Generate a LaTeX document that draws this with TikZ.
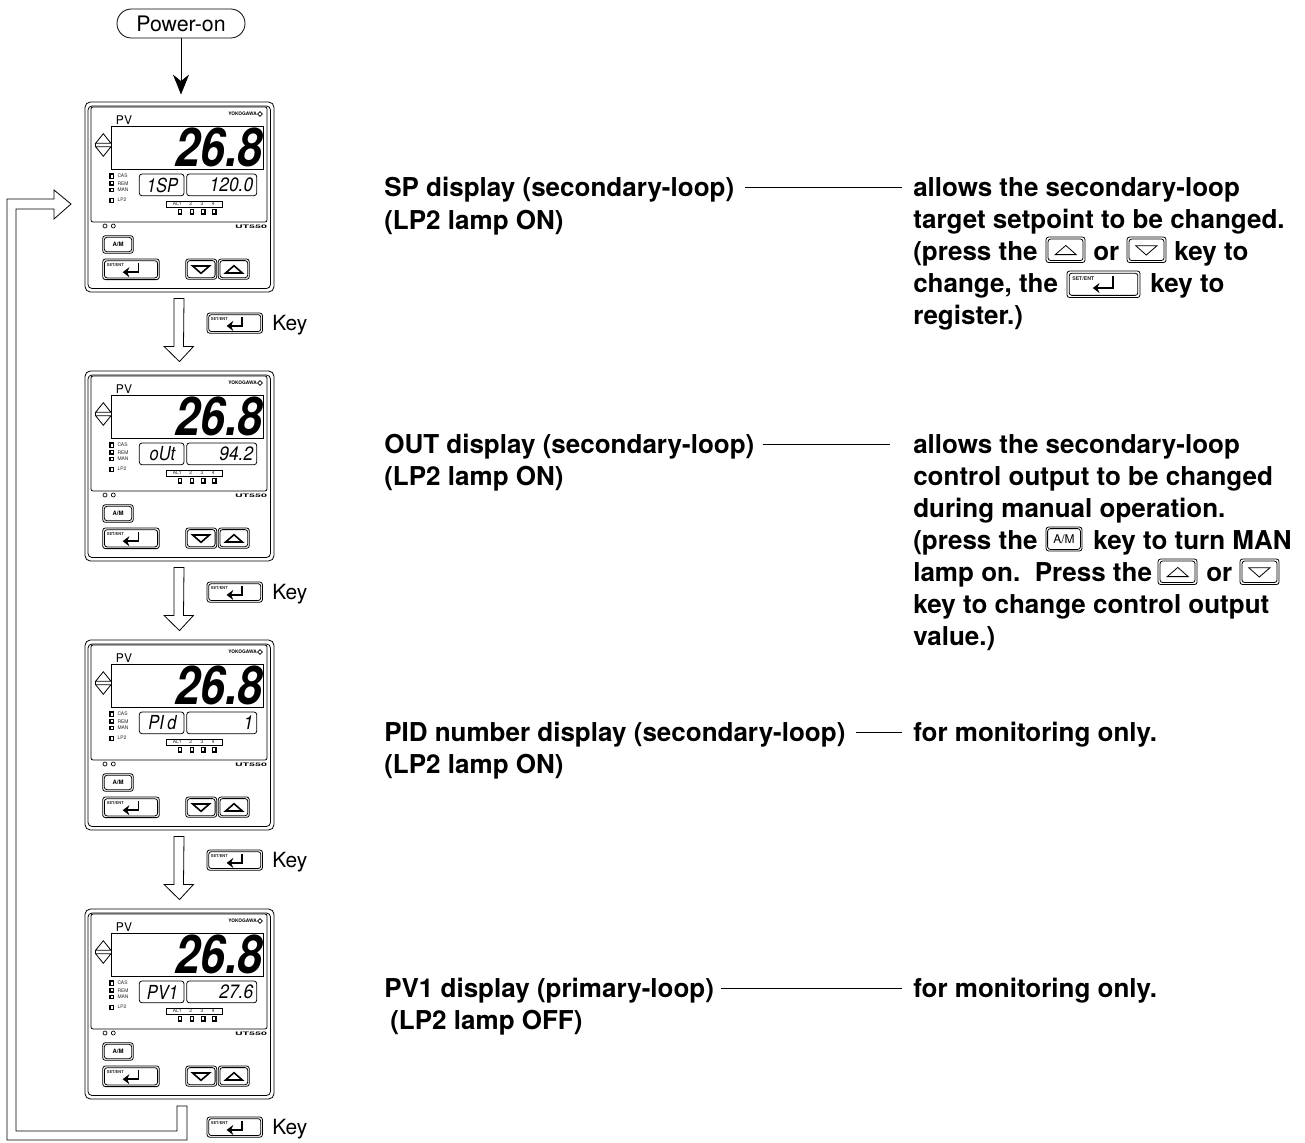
\documentclass[tikz,border=0pt]{standalone}
\usepackage{fontspec}
\usepackage{graphicx}
\setmainfont{TeX Gyre Heros}
\usetikzlibrary{arrows.meta,calc}
\tikzset{
  thinline/.style={line width=.6pt,black},
  keyrim/.style={line width=.6pt,rounded corners=2pt,black},
  lamp/.style={line width=1pt,draw=black,fill=white},
  bold text/.style={anchor=west,inner sep=0pt,text height=14.25pt,text depth=.75pt,font=\fontsize{19.5pt}{19.5pt}\selectfont\bfseries},
  plain text/.style={anchor=west,inner sep=0pt,font=\fontsize{15.7pt}{15.7pt}\selectfont},
  tiny text/.style={inner sep=0pt,font=\fontsize{3.7pt}{3.7pt}\selectfont,text=black!85},
  frame node/.style={draw,line width=.6pt,rounded corners=4pt,minimum width=141.75pt,minimum height=142.5pt,inner sep=0pt},
  blockarrow/.style={draw,line width=.6pt,fill=white},
  leader/.style={line width=.6pt,black},
}
% SET/ENT key: name, x, y, scale, label size
\newcommand{\setentkey}[5]{%
  \begin{scope}[shift={(#2,#3)},scale=#4]
    \draw[keyrim] (0,0) rectangle (56.6,20.6);
    \draw[keyrim] (1.7,1.7) rectangle (54.9,18.9);
    \node[inner sep=0pt,font=\fontsize{#5pt}{#5pt}\selectfont\bfseries,text=black!85] (#1lbl) at (12.6,5.8) {SET/ENT};
    \draw[line width=1.2pt,-{Stealth[length=5pt,width=7.5pt]}] (35.7,4) -- (35.7,13.2) -- (20,13.2);
  \end{scope}}
% arrow key: name, x, y, scale, u/d, triangle line width
\newcommand{\arrowkey}[6]{%
  \begin{scope}[shift={(#2,#3)},scale=#4]
    \draw[keyrim] (0,0) rectangle (31,20.3);
    \draw[keyrim] (1.6,1.6) rectangle (29.4,18.7);
    \if#5u
      \draw[line width=#6,line join=miter] (7.3,14) -- (24,14) -- (15.7,6.7) -- cycle;
    \else
      \draw[line width=#6,line join=miter] (7,7) -- (23.7,7) -- (15.3,14.3) -- cycle;
    \fi
  \end{scope}}
% A/M key: name, x, y, w, h, font
\newcommand{\amkey}[6]{%
  \begin{scope}[shift={(#2,#3)}]
    \draw[keyrim] (0,0) rectangle (#4,#5);
    \draw[keyrim] (1.6,1.6) rectangle ({#4-1.6},{#5-1.6});
    \node[inner sep=0pt,font=#6] (#1lbl) at ({#4/2},{#5/2}) {A/M};
  \end{scope}}
% panel: name, y, first small display, second small display
\newcommand{\panel}[4]{%
  \begin{scope}[shift={(85,#2)}]
    \node[frame node] (#1) at (94.5,95) {};
    \draw[thinline,rounded corners=3pt] (3,4) rectangle (185.5,186.5);
    \draw[thinline,rounded corners=1.5pt] (6,5) rectangle (182,120);
    \draw[thinline] (26,24) rectangle (178,67);
    \node[inner sep=0pt,font=\fontsize{9pt}{9pt}\selectfont] (#1pv) at (39,18) {PV};
    \node[anchor=east,inner sep=0pt,font=\fontsize{3.6pt}{3.6pt}\selectfont\bfseries] (#1yoko) at (172,12) {YOKOGAWA};
    \draw[line width=.5pt] (175,9.7) -- (177.3,12) -- (175,14.3) -- (172.7,12) -- cycle;
    \node[anchor=east,inner sep=0pt] (#1big) at (178,45) {\scalebox{.84}[1]{\fontsize{40pt}{40pt}\selectfont\bfseries\itshape 26.8}};
    % updown marks
    \draw[thinline] (10.6,41.3) -- (18.3,31.7) -- (26,41.3) -- cycle;
    \draw[thinline] (10.6,44.7) -- (18.3,54.3) -- (26,44.7) -- cycle;
    \draw[thinline] (10.6,41.3) -- (10.6,44.7) (26,41.3) -- (26,44.7);
    % lamps
    \draw[lamp] (25,72) rectangle (28.3,76.3);
    \draw[lamp] (25,79.3) rectangle (28.3,83);
    \draw[lamp] (25,86.3) rectangle (28.3,89.7);
    \draw[lamp] (25,96.3) rectangle (28.3,100.7);
    \node[tiny text,anchor=west] (#1cas) at (32.3,74) {CAS};
    \node[tiny text,anchor=west] (#1rem) at (32.3,81.3) {REM};
    \node[tiny text,anchor=west] (#1man) at (32.3,88) {MAN};
    \node[tiny text,anchor=west] (#1lp) at (32.3,98) {LP2};
    % small displays
    \draw[thinline,rounded corners=2pt] (54.3,72) rectangle (99,93.7);
    \draw[thinline,rounded corners=2pt] (101.7,72) rectangle (171.7,93.7);
    \node[inner sep=0pt] (#1dispa) at (77.5,83) {\scalebox{.85}[1]{\fontsize{14.5pt}{14.5pt}\selectfont\itshape #3}};
    \node[anchor=east,inner sep=0pt] (#1dispb) at (168.5,83) {\scalebox{.9}[1]{\fontsize{14.5pt}{14.5pt}\selectfont\itshape #4}};
    % alarm strip
    \draw[line width=.5pt] (81,99) rectangle (137.7,105.3);
    \node[tiny text] (#1ala) at (92.3,102) {AL1};
    \node[tiny text] (#1alb) at (105.7,102) {2};
    \node[tiny text] (#1alc) at (117,102) {3};
    \node[tiny text] (#1ald) at (128.3,102) {4};
    \draw[lamp] (93.3,107.5) rectangle (96.7,112);
    \draw[lamp] (105.3,107.5) rectangle (108.7,112);
    \draw[lamp] (116.6,107.5) rectangle (120,112);
    \draw[lamp] (127.6,107.5) rectangle (131,112);
    \draw[line width=.5pt] (20,124) circle (2) (28.3,124) circle (2);
    \node[anchor=east,inner sep=0pt] (#1ut) at (182.3,125) {\scalebox{2}[.9]{\fontsize{4pt}{4pt}\selectfont\bfseries UT550}};
    \amkey{#1am}{17.7}{133.7}{30.6}{17.6}{\fontsize{4.5pt}{4.5pt}\selectfont\bfseries}
    \setentkey{#1set}{17.7}{157}{1}{3}
    \arrowkey{#1down}{100.7}{157}{1}{d}{1.2pt}
    \arrowkey{#1up}{133.3}{157}{1}{u}{1.2pt}
  \end{scope}}
\newcommand{\blockdown}[2]{%
  \draw[blockarrow] ($(#1.south)+(-5.5,6)$) -- ++(0,48) -- ++(-10,0) -- ($(#2.north)+(0,-9)$) -- ($(#1.south)+(14,54)$) -- ++(-10,0) -- ($(#1.south)+(4.5,6)$) -- cycle;}
\newcommand{\sidekey}[2]{%
  \setentkey{#1}{207}{#2}{.98}{3}
  \node[plain text] (#1word) at (272,{#2+12}) {Key};}
\begin{document}
\begin{tikzpicture}[x=.75pt,y=-.75pt]
\useasboundingbox (0,0) rectangle (1305,1142);
\panel{panelA}{102}{1SP}{120.0}
\panel{panelB}{371}{oUt}{94.2}
\panel{panelC}{640}{PI\hspace{3pt}d}{1}
\panel{panelD}{909}{PV1}{27.6}
% power-on
\node[draw,line width=.6pt,rounded corners=10.8pt,minimum width=96pt,minimum height=21.75pt,inner sep=0pt,font=\fontsize{16pt}{16pt}\selectfont] (power) at (181,23.5) {Power-on};
\draw[line width=.7pt,-{Stealth[length=15pt,width=12pt]},shorten >=5.25pt] (power.south) -- (power.south |- panelA.north);
% block arrows
\blockdown{panelA}{panelB}
\blockdown{panelB}{panelC}
\blockdown{panelC}{panelD}
\draw[blockarrow] (54,199) -- (54,190) -- (71,204) -- (54,219) -- (54,209) -- (16,209) -- (16,1131) -- (177,1131) -- (177,1106) -- (187,1106) -- (187,1140) -- (7,1140) -- (7,199) -- cycle;
% side keys
\sidekey{keyA}{313}
\sidekey{keyB}{582}
\sidekey{keyC}{850}
\sidekey{keyD}{1117}
% left labels
\node[bold text] (spa) at (384,187.5) {SP display (secondary-loop)};
\node[bold text] (spb) at (384,220) {(LP2 lamp ON)};
\node[bold text] (outa) at (384,444) {OUT display (secondary-loop)};
\node[bold text] (outb) at (384,476) {(LP2 lamp ON)};
\node[bold text] (pida) at (384,732) {PID number display (secondary-loop)};
\node[bold text] (pidb) at (384,764) {(LP2 lamp ON)};
\node[bold text] (pva) at (384,988) {PV1 display (primary-loop)};
\node[bold text] (pvb) at (390,1020.5) {(LP2 lamp OFF)};
% right column, SP
\node[bold text] (sp1) at (913,187.5) {allows the secondary-loop};
\node[bold text] (sp2) at (913,219.5) {target setpoint to be changed.};
\node[bold text] (sp3) at (913,251.5) {(press the};
\arrowkey{spup}{1046}{237}{1.26}{u}{.6pt}
\node[bold text] (sp3b) at (1093,251.5) {or};
\arrowkey{spdown}{1127}{237}{1.26}{d}{.6pt}
\node[bold text] (sp3c) at (1174,251.5) {key to};
\node[bold text] (sp4) at (913,283.5) {change, the};
\setentkey{spset}{1067}{271}{1.29}{3.9}
\node[bold text] (sp4b) at (1150,283.5) {key to};
\node[bold text] (sp5) at (913,315) {register.)};
% right column, OUT
\node[bold text] (out1) at (913,444) {allows the secondary-loop};
\node[bold text] (out2) at (913,476) {control output to be changed};
\node[bold text] (out3) at (913,508) {during manual operation.};
\node[bold text] (out4) at (913,540) {(press the};
\amkey{outam}{1046}{527}{36}{24}{\fontsize{9pt}{9pt}\selectfont}
\node[bold text] (out4b) at (1093,540) {key to turn MAN};
\node[bold text] (out5) at (913,572) {lamp on.\ \ Press the};
\arrowkey{outup}{1158}{559}{1.26}{u}{.6pt}
\node[bold text] (out5b) at (1206,572) {or};
\arrowkey{outdown}{1240}{559}{1.26}{d}{.6pt}
\node[bold text] (out6) at (913,604) {key to change control output};
\node[bold text] (out7) at (913,636) {value.)};
% right column, others
\node[bold text] (pid1) at (913,732) {for monitoring only.};
\node[bold text] (pv1) at (913,988) {for monitoring only.};
% leaders
\draw[leader,shorten <=8pt,shorten >=8pt] (spa) -- (sp1);
\draw[leader,shorten <=6pt,shorten >=17pt] (outa) -- (out1);
\draw[leader,shorten <=8pt,shorten >=8pt] (pida) -- (pid1);
\draw[leader,shorten <=5pt,shorten >=8pt] (pva) -- (pv1);
\end{tikzpicture}
\end{document}
